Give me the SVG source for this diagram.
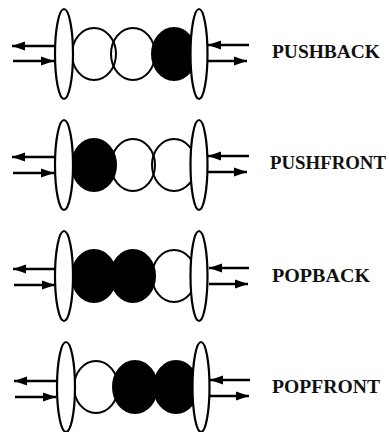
<svg xmlns="http://www.w3.org/2000/svg" width="389" height="432" viewBox="0 0 389 432">
<defs>
<marker id="ah" markerUnits="userSpaceOnUse" markerWidth="14" markerHeight="10" refX="13" refY="5" orient="auto">
<path d="M0,0.5 L13,5 L0,9.5 Z" fill="#000"/>
</marker>
</defs>
<style>
.w{fill:#fff;stroke:none}
.wo{fill:none;stroke:#000;stroke-width:2}
.b{fill:#000;stroke:#000;stroke-width:2}
.e{fill:#fff;stroke:#000;stroke-width:2.2}
.a{stroke:#000;stroke-width:2.6;fill:none;marker-end:url(#ah)}
.t{font-family:"Liberation Serif","Times New Roman",serif;font-weight:bold;font-size:19.5px;fill:#111}
</style>
<rect width="389" height="432" fill="#fff"/>

<g id="pushback" transform="translate(0,54)">
<ellipse class="w" cx="94" cy="0" rx="22" ry="26"/>
<ellipse class="w" cx="133" cy="0" rx="22" ry="26"/>
<ellipse class="wo" cx="94" cy="0" rx="22" ry="26"/>
<ellipse class="wo" cx="133" cy="0" rx="22" ry="26"/>
<ellipse class="b" cx="174" cy="0" rx="22" ry="26"/>
<ellipse class="e" cx="64" cy="0" rx="9" ry="45"/>
<ellipse class="e" cx="199" cy="0" rx="8.5" ry="45"/>
<text class="t" x="272" y="4" textLength="108" lengthAdjust="spacingAndGlyphs">PUSHBACK</text>
</g>

<g id="pushfront" transform="translate(0,165)">
<ellipse class="w" cx="133" cy="0" rx="22" ry="26"/>
<ellipse class="w" cx="174" cy="0" rx="22" ry="26"/>
<ellipse class="wo" cx="133" cy="0" rx="22" ry="26"/>
<ellipse class="wo" cx="174" cy="0" rx="22" ry="26"/>
<ellipse class="b" cx="94" cy="0" rx="22" ry="26"/>
<ellipse class="e" cx="64" cy="0" rx="9" ry="45"/>
<ellipse class="e" cx="199" cy="0" rx="8.5" ry="45"/>
<text class="t" x="270" y="4" textLength="116" lengthAdjust="spacingAndGlyphs">PUSHFRONT</text>
</g>

<g id="popback" transform="translate(0,276)">
<ellipse class="w" cx="174" cy="0" rx="22" ry="26"/>
<ellipse class="wo" cx="174" cy="0" rx="22" ry="26"/>
<ellipse class="b" cx="94" cy="0" rx="22" ry="26"/>
<ellipse class="b" cx="133" cy="0" rx="22" ry="26"/>
<ellipse class="e" cx="64" cy="0" rx="9" ry="45"/>
<ellipse class="e" cx="199" cy="0" rx="8.5" ry="45"/>
<text class="t" x="272" y="6" textLength="98" lengthAdjust="spacingAndGlyphs">POPBACK</text>
</g>

<g id="popfront" transform="translate(1,387)">
<ellipse class="w" cx="95" cy="0" rx="22" ry="26"/>
<ellipse class="wo" cx="95" cy="0" rx="22" ry="26"/>
<ellipse class="b" cx="134" cy="0" rx="22" ry="26"/>
<ellipse class="b" cx="175" cy="0" rx="22" ry="26"/>
<ellipse class="e" cx="65" cy="0" rx="9" ry="45"/>
<ellipse class="e" cx="200" cy="0" rx="8.5" ry="45"/>
<text class="t" x="271" y="6" textLength="108" lengthAdjust="spacingAndGlyphs">POPFRONT</text>
</g>

<g id="connectors">
<line class="a" x1="55" y1="46" x2="12" y2="46"/>
<line class="a" x1="13" y1="61" x2="54" y2="61"/>
<line class="a" x1="249" y1="45" x2="208" y2="45"/>
<line class="a" x1="208" y1="61" x2="247" y2="61"/>

<line class="a" x1="55" y1="157" x2="12" y2="157"/>
<line class="a" x1="13" y1="173" x2="54" y2="173"/>
<line class="a" x1="249" y1="156" x2="208" y2="156"/>
<line class="a" x1="208" y1="172" x2="247" y2="172"/>

<line class="a" x1="55" y1="269" x2="13" y2="269"/>
<line class="a" x1="14" y1="285" x2="55" y2="285"/>
<line class="a" x1="249" y1="268" x2="209" y2="268"/>
<line class="a" x1="209" y1="284" x2="248" y2="284"/>

<line class="a" x1="56" y1="381" x2="14" y2="381"/>
<line class="a" x1="15" y1="397" x2="56" y2="397"/>
<line class="a" x1="250" y1="380" x2="210" y2="380"/>
<line class="a" x1="210" y1="396" x2="249" y2="396"/>
</g>
</svg>
